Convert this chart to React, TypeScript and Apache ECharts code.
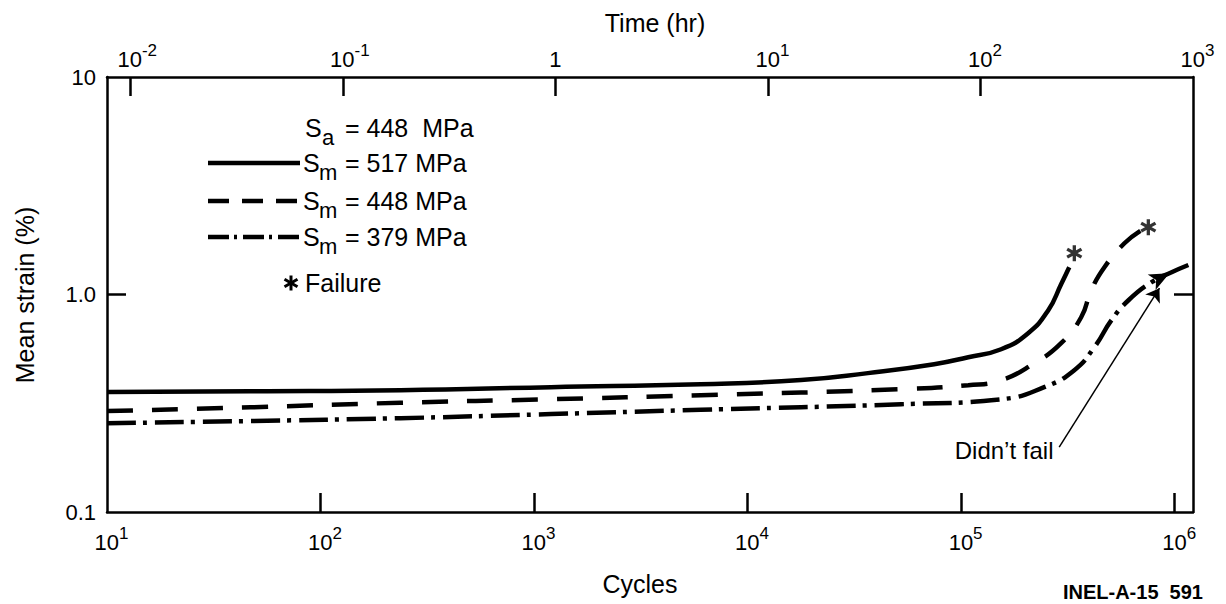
import React, { useEffect, useRef } from 'react';
import * as echarts from 'echarts';

const FONT = '"Liberation Sans", Arial, Helvetica, sans-serif';

// Cycles (x) and mean strain % (y)
const cycles517 = [10, 47, 237, 1200, 6040, 17800, 36600, 74800, 108000, 154000, 206000, 256000, 294000, 321000];
const strain517 = [0.356, 0.359, 0.363, 0.375, 0.387, 0.404, 0.435, 0.478, 0.515, 0.56, 0.664, 0.847, 1.115, 1.335];

const cycles448 = [10, 47, 237, 1200, 6040, 52400, 108000, 154000, 220000, 294000, 365000, 407000, 469000, 582000, 698000];
const strain448 = [0.291, 0.303, 0.318, 0.33, 0.344, 0.367, 0.383, 0.404, 0.483, 0.597, 0.786, 1.046, 1.335, 1.72, 1.975];

const cycles379 = [10, 47, 237, 1200, 6040, 52400, 154000, 245000, 339000, 421000, 506000, 608000, 780000, 968000, 1219000];
const strain379 = [0.256, 0.262, 0.27, 0.282, 0.295, 0.313, 0.33, 0.375, 0.449, 0.573, 0.762, 0.941, 1.139, 1.266, 1.393];

const failureCycles = [339000, 753000];
const failureStrain = [1.549, 2.04];

const cycleTicks = [10, 100, 1000, 10000, 100000, 1000000];
const timeTicks = [0.01, 0.1, 1, 10, 100, 1000];
const strainTicks = [0.1, 1, 10];

const legendLabels = ['= 517 MPa', '= 448 MPa', '= 379 MPa'];

const ASTERISK =
  'path://M-2 -10L2 -10L2 10L-2 10Z M7.66 -6.73L9.66 -3.27L-7.66 6.73L-9.66 3.27Z M9.66 3.27L7.66 6.73L-9.66 -3.27L-7.66 -6.73Z';

const zip = (a: number[], b: number[]) => a.map((v, i) => [v, b[i]]);

const richLabel = {
  b: { fontSize: 22, lineHeight: 28, verticalAlign: 'bottom', fontFamily: FONT, color: '#000' },
  s: { fontSize: 17, lineHeight: 14, verticalAlign: 'top', fontFamily: FONT, color: '#000' },
  p: { width: 9, fontSize: 17, lineHeight: 14, verticalAlign: 'top' },
  q: { width: 14, fontSize: 17, lineHeight: 14, verticalAlign: 'top' },
};

const powLabel = (v: number) => {
  const e = Math.round(Math.log10(v));
  if (e === 0) return '{b|1}';
  return (e < 0 ? '{q| }' : '{p| }') + '{b|10}{s|' + e + '}';
};

const axisLineStyle = { color: '#000', width: 2.5 };

export default function App() {
  const ref = useRef<HTMLDivElement>(null);
  useEffect(() => {
    if (!ref.current) return;
    const chart = echarts.init(ref.current, undefined, { renderer: 'svg' });
    const lineBase = { type: 'line', xAxisIndex: 0, yAxisIndex: 0, showSymbol: false, smooth: 0.5, silent: true };
    const option: any = {
      animation: false,
      backgroundColor: '#fff',
      grid: { left: 107, right: 33, top: 77, bottom: 92, show: false },
      xAxis: [
        {
          type: 'log', logBase: 10, min: 10, max: 1219000, position: 'bottom',
          axisLine: { show: true, lineStyle: axisLineStyle },
          axisTick: { show: true, inside: true, length: 19, lineStyle: axisLineStyle, customValues: cycleTicks.slice(1) },
          axisLabel: { show: true, margin: 13, formatter: powLabel, rich: richLabel, customValues: cycleTicks, hideOverlap: false },
          splitLine: { show: false }, minorTick: { show: false },
        },
        {
          type: 'log', logBase: 10, min: 0.00777, max: 1000, position: 'top',
          axisLine: { show: true, lineStyle: axisLineStyle },
          axisTick: { show: true, inside: true, length: 19, lineStyle: axisLineStyle, customValues: timeTicks.slice(0, 5) },
          axisLabel: { show: true, margin: 7, formatter: powLabel, rich: richLabel, customValues: timeTicks, hideOverlap: false },
          splitLine: { show: false },
        },
      ],
      yAxis: [
        {
          type: 'log', logBase: 10, min: 0.1, max: 10, position: 'left',
          axisLine: { show: true, lineStyle: axisLineStyle },
          axisTick: { show: true, inside: true, length: 19, lineStyle: axisLineStyle, customValues: [1] },
          axisLabel: {
            show: true, margin: 11, fontSize: 22, fontFamily: FONT, color: '#000', customValues: strainTicks,
            formatter: (v: number) => (v >= 9.9 ? '10' : v >= 0.99 ? '1.0' : '0.1'),
          },
          splitLine: { show: false },
        },
        {
          type: 'log', logBase: 10, min: 0.1, max: 10, position: 'right',
          axisLine: { show: true, lineStyle: axisLineStyle },
          axisTick: { show: true, inside: true, length: 19, lineStyle: axisLineStyle, customValues: [1] },
          axisLabel: { show: false },
          splitLine: { show: false },
        },
      ],
      series: [
        { ...lineBase, name: 'Sm = 517 MPa', data: zip(cycles517, strain517), lineStyle: { color: '#000', width: 4.5, type: 'solid' } },
        { ...lineBase, name: 'Sm = 448 MPa', data: zip(cycles448, strain448), lineStyle: { color: '#000', width: 4.5, type: [26, 19] } },
        {
          ...lineBase, name: 'Sm = 379 MPa', data: zip(cycles379, strain379),
          lineStyle: { color: '#000', width: 4.5, type: [29, 7, 4, 8] },
          markLine: {
            silent: true, symbol: ['none', 'arrow'], symbolSize: 13,
            lineStyle: { color: '#000', width: 1.5, type: 'solid' },
            label: { show: false },
            data: [[{ coord: [288000, 0.1986] }, { coord: [849000, 1.069] }]],
          },
          markPoint: {
            silent: true,
            data: [
              {
                coord: [946000, 1.253], symbol: 'arrow', symbolSize: [13, 20], symbolRotate: -63,
                itemStyle: { color: '#000' }, label: { show: false },
              },
              {
                coord: [159000, 0.1923], symbol: 'circle', symbolSize: 0,
                label: { show: true, position: 'inside', formatter: 'Didn\u2019t fail', fontSize: 24, fontFamily: FONT, color: '#000' },
              },
            ],
          },
        },
        {
          type: 'scatter', name: 'Failure', xAxisIndex: 0, yAxisIndex: 0, silent: true,
          data: zip(failureCycles, failureStrain), symbol: ASTERISK, symbolSize: 16,
          itemStyle: { color: '#000' },
        },
      ],
      graphic: [
        { type: 'text', x: 655, y: 23, style: { text: 'Time (hr)', fontSize: 25, fontFamily: FONT, fill: '#000', align: 'center', verticalAlign: 'middle' } },
        { type: 'text', x: 640, y: 584, style: { text: 'Cycles', fontSize: 25, fontFamily: FONT, fill: '#000', align: 'center', verticalAlign: 'middle' } },
        { type: 'text', x: 25, y: 295, rotation: Math.PI / 2, style: { text: 'Mean strain (%)', fontSize: 25, fontFamily: FONT, fill: '#000', align: 'center', verticalAlign: 'middle' } },
        { type: 'text', x: 1203, y: 592, style: { text: 'INEL-A-15  591', fontSize: 20, fontWeight: 'bold', fontFamily: FONT, fill: '#000', align: 'right', verticalAlign: 'middle' } },
        // legend header
        { type: 'text', x: 305, y: 128, style: { text: 'S', fontSize: 25, fontFamily: FONT, fill: '#000', align: 'left', verticalAlign: 'middle' } },
        { type: 'text', x: 322, y: 137, style: { text: 'a', fontSize: 22, fontFamily: FONT, fill: '#000', align: 'left', verticalAlign: 'middle' } },
        { type: 'text', x: 345, y: 128, style: { text: '= 448  MPa', fontSize: 25, fontFamily: FONT, fill: '#000', align: 'left', verticalAlign: 'middle' } },
        // legend rows
        { type: 'line', shape: { x1: 208, y1: 163, x2: 300, y2: 163 }, style: { stroke: '#000', lineWidth: 4.5 } },
        { type: 'line', shape: { x1: 208, y1: 201, x2: 300, y2: 201 }, style: { stroke: '#000', lineWidth: 4.5, lineDash: [21, 13] } },
        { type: 'line', shape: { x1: 208, y1: 237, x2: 300, y2: 237 }, style: { stroke: '#000', lineWidth: 4.5, lineDash: [21, 5, 3, 6] } },
        ...[163, 201, 237].flatMap((y, i) => [
          { type: 'text', x: 303, y, style: { text: 'S', fontSize: 25, fontFamily: FONT, fill: '#000', align: 'left', verticalAlign: 'middle' } },
          { type: 'text', x: 319, y: y + 9, style: { text: 'm', fontSize: 22, fontFamily: FONT, fill: '#000', align: 'left', verticalAlign: 'middle' } },
          { type: 'text', x: 345, y, style: { text: legendLabels[i], fontSize: 25, fontFamily: FONT, fill: '#000', align: 'left', verticalAlign: 'middle' } },
        ]),
        {
          type: 'group', x: 291, y: 283,
          children: [0, 1, 2].map((k) => ({
            type: 'rect', rotation: (k * Math.PI) / 3,
            shape: { x: -1.5, y: -7.5, width: 3, height: 15 }, style: { fill: '#000' },
          })),
        },
        { type: 'text', x: 305, y: 283, style: { text: 'Failure', fontSize: 25, fontFamily: FONT, fill: '#000', align: 'left', verticalAlign: 'middle' } },
      ],
    };
    chart.setOption(option);
    return () => chart.dispose();
  }, []);
  return <div ref={ref} style={{ position: 'fixed', left: 0, top: 0, width: 1226, height: 604, background: '#fff' }} />;
}
